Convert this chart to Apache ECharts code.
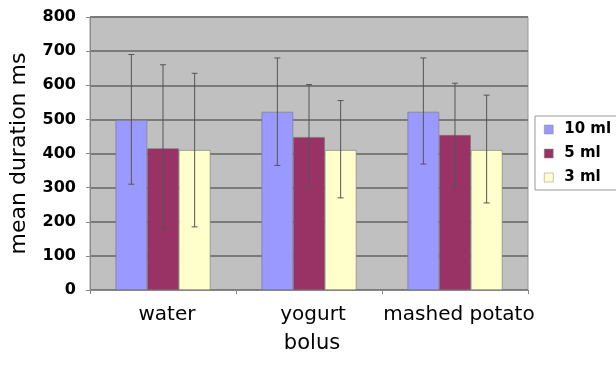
<!doctype html>
<html>
<head>
<meta charset="UTF-8">
<title>mean duration</title>
<script src="https://cdn.jsdelivr.net/npm/echarts@6/dist/echarts.min.js"></script>
<style>
  html, body { margin: 0; padding: 0; background: #fff; }
  #chart { width: 616px; height: 368px; }
</style>
</head>
<body>
<div id="chart"></div>
<script>
// categories and series
var bolus = ['water', 'yogurt', 'mashed potato'];
var seriesNames = ['10 ml', '5 ml', '3 ml'];
var colors = ['#9999ff', '#993366', '#ffffcc'];

var mean10 = [498, 522, 522];
var mean5 = [415, 448, 454];
var mean3 = [410, 410, 410];

// error bar ends (low, high)
var low10 = [310, 365, 369];
var high10 = [690, 680, 680];
var low5 = [180, 300, 302];
var high5 = [660, 602, 606];
var low3 = [185, 270, 255];
var high3 = [635, 555, 571];

var yTicks = [0, 100, 200, 300, 400, 500, 600, 700, 800];

var means = [mean10, mean5, mean3];
var lows = [low10, low5, low3];
var highs = [high10, high5, high3];

var catGap = 0.35;

var chart = echarts.init(document.getElementById('chart'));
var font = 'DejaVu Sans, Verdana, sans-serif';

var series = [];
for (var s = 0; s < 3; s++) {
    series.push({
        name: seriesNames[s],
        type: 'bar',
        data: means[s],
        barGap: '0%',
        barCategoryGap: (catGap * 100) + '%',
        itemStyle: { color: colors[s], borderColor: '#777', borderWidth: 0.6 },
        z: 2
    });
}

// error bars, one custom series per bar series
for (var s = 0; s < 3; s++) {
    (function (k) {
        var d = [];
        for (var i = 0; i < bolus.length; i++) d.push([i, lows[k][i], highs[k][i]]);
        series.push({
            type: 'custom',
            name: seriesNames[k] + ' err',
            data: d,
            z: 5,
            silent: true,
            renderItem: function (params, api) {
                var idx = api.value(0);
                var lo = api.coord([idx, api.value(1)]);
                var hi = api.coord([idx, api.value(2)]);
                var band = api.size([1, 0])[0];
                var bw = band * (1 - catGap) / 3;
                var x = lo[0] + (k - 1) * bw;
                var cap = 3;
                var st = { stroke: '#555', lineWidth: 1 };
                return {
                    type: 'group',
                    children: [
                        { type: 'line', shape: { x1: x, y1: lo[1], x2: x, y2: hi[1] }, style: st },
                        { type: 'line', shape: { x1: x - cap, y1: hi[1], x2: x + cap, y2: hi[1] }, style: st },
                        { type: 'line', shape: { x1: x - cap, y1: lo[1], x2: x + cap, y2: lo[1] }, style: st }
                    ]
                };
            }
        });
    })(s);
}

chart.setOption({
    animation: false,
    backgroundColor: '#fff',
    textStyle: { fontFamily: font },
    grid: {
        left: 90, right: 88, top: 17, bottom: 78,
        show: true, backgroundColor: '#c0c0c0', borderColor: '#999', borderWidth: 1
    },
    legend: {
        data: seriesNames,
        orient: 'vertical',
        left: 535, top: 116,
        itemWidth: 9, itemHeight: 9, itemGap: 9, itemStyle: { borderColor: '#888', borderWidth: 0.5 },
        padding: [6, 10, 5, 9],
        borderColor: '#999', borderWidth: 1,
        backgroundColor: '#fff',
        textStyle: { fontSize: 15, lineHeight: 15, fontWeight: 'bold', color: '#000', fontFamily: font, padding: [0, 0, 0, 6] },
        icon: 'rect'
    },
    xAxis: {
        type: 'category',
        data: bolus,
        name: 'bolus',
        nameLocation: 'middle',
        nameGap: 43,
        nameTextStyle: { fontSize: 21, color: '#000', padding: [0, 0, 0, 6] },
        axisLine: { lineStyle: { color: '#888', width: 1 } },
        axisTick: { show: true, length: 4, lineStyle: { color: '#888' } },
        axisLabel: { fontSize: 20, color: '#000', margin: 15, interval: 0, hideOverlap: false, padding: [0, 0, 0, 8] },
        splitLine: { show: false }
    },
    yAxis: {
        type: 'value',
        min: yTicks[0],
        max: yTicks[yTicks.length - 1],
        interval: 100,
        name: 'mean duration ms',
        nameLocation: 'middle',
        nameRotate: 90,
        nameGap: 60,
        nameTextStyle: { fontSize: 22, color: '#000' },
        axisLine: { show: true, lineStyle: { color: '#888' } },
        axisTick: { show: true, length: 4, lineStyle: { color: '#888' } },
        axisLabel: { fontSize: 16, fontWeight: 'bold', color: '#000', margin: 14 },
        splitLine: { show: true, lineStyle: { color: '#7a7a7a', width: 2 } }
    },
    series: series
});
</script>
</body>
</html>
